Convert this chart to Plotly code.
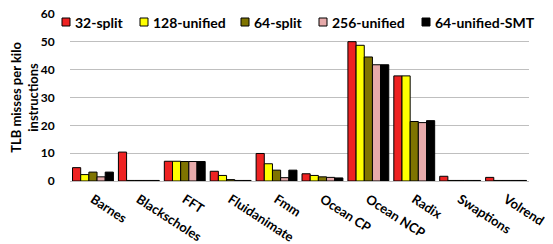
import plotly.graph_objects as go

categories = ["Barnes", "Blackscholes", "FFT", "Fluidanimate", "Fmm",
              "Ocean CP", "Ocean NCP", "Radix", "Swaptions", "Volrend"]
series_names = ["32-split", "128-unified", "64-split", "256-unified", "64-unified-SMT"]
s32_split = [4.8, 10.4, 7.1, 3.5, 9.9, 2.6, 50.1, 37.8, 1.7, 1.3]
s128_unified = [2.3, 0.2, 7.1, 2.0, 6.2, 2.0, 48.8, 37.8, 0.2, 0.2]
s64_split = [3.2, 0.2, 7.0, 0.5, 3.9, 1.5, 44.6, 21.4, 0.2, 0.2]
s256_unified = [1.5, 0.2, 7.0, 0.2, 1.2, 1.3, 41.8, 21.0, 0.2, 0.2]
s64_unified_smt = [3.2, 0.2, 7.0, 0.2, 3.9, 1.1, 41.8, 21.7, 0.2, 0.2]
y_ticks = [0, 10, 20, 30, 40, 50, 60]

series_values = [s32_split, s128_unified, s64_split, s256_unified, s64_unified_smt]
colors = ["#EE2222", "#FFFF00", "#7F7400", "#E6AAAA", "#000000"]

FONT = "Lato"
def F(size):
    return dict(family=FONT, size=size, color="#000000", weight="bold")

fig = go.Figure()
for name, vals, col in zip(series_names, series_values, colors):
    fig.add_trace(go.Bar(x=categories, y=vals, name=name, marker_color=col,
                         marker_line_color="#000000", marker_line_width=1,
                         showlegend=False))

# page body adds an 8px offset; compensate in size/margins
OFF = 8
L, R, T, B = 70 - OFF, 24, 14 - OFF, 63
W, H = 553 - OFF, 244 - OFF
pw, ph = W - L - R, H - T - B
box_px = [62, 140, 241, 319, 422]   # target page pixel positions
leg_y_px = 22
for name, col, bx in zip(series_names, colors, box_px):
    x0 = (bx - 70) / pw
    x1 = (bx + 8 - 70) / pw
    y0 = 1 - (leg_y_px + 4 - 14) / ph
    y1 = 1 - (leg_y_px - 4 - 14) / ph
    fig.add_shape(type="rect", xref="x domain", yref="y domain",
                  x0=x0, x1=x1, y0=y0, y1=y1,
                  fillcolor=col, line=dict(color="#000000", width=1))
    fig.add_annotation(xref="x domain", yref="y domain",
                       x=(bx + 11 - 70) / pw, y=1 - (leg_y_px + 1 - 14) / ph,
                       text=name, showarrow=False, xanchor="left", yanchor="middle",
                       font=F(14))

fig.update_layout(
    width=W, height=H,
    margin=dict(l=L, r=R, t=T, b=B, autoexpand=False),
    paper_bgcolor="white", plot_bgcolor="white",
    barmode="group", bargap=0.11, bargroupgap=0,
    font=F(12),
    showlegend=False,
)
fig.update_xaxes(tickangle=33, tickfont=F(13), automargin=False,
                 ticklabeloverflow="allow",
                 showline=False, showgrid=False, ticks="outside", ticklen=5,
                 tickcolor="rgba(0,0,0,0)")
fig.update_yaxes(range=[0, 60.05], tickvals=y_ticks, showgrid=True, gridcolor="#BFBFBF",
                 gridwidth=1.3, zeroline=True, zerolinecolor="#BFBFBF", zerolinewidth=1.3,
                 ticks="outside", ticklen=12, tickcolor="rgba(0,0,0,0)", automargin=False,
                 ticklabeloverflow="allow",
                 tickfont=F(12),
                 title=dict(text="TLB misses per kilo<br>instructions", standoff=4,
                            font=F(13)))
fig.write_html("out.html")
